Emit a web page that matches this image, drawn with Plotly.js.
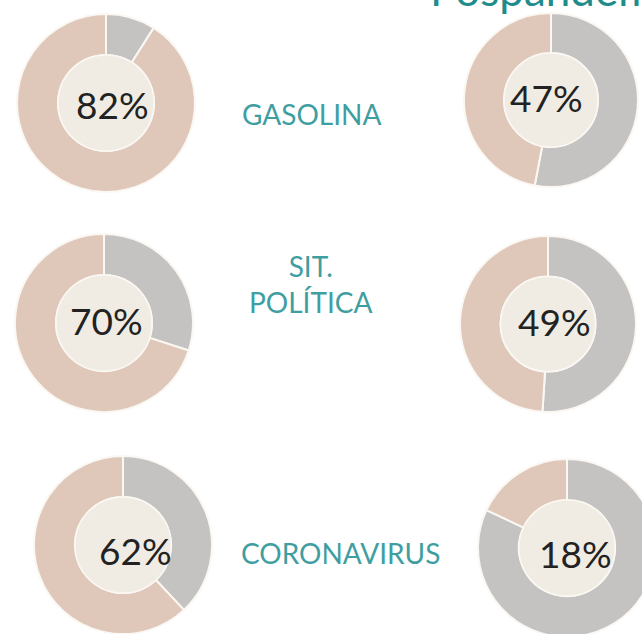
<!DOCTYPE html>
<html>
<head>
<meta charset="utf-8">
<script src="https://cdn.plot.ly/plotly-3.0.1.min.js"></script>
<style>
html,body{margin:0;padding:0;overflow:hidden;background:#fff;}
#chart{position:absolute;left:0;top:0;}
</style>
</head>
<body>
<div id="chart"></div>
<script>
// Data
const categories = ["GASOLINA", "SIT.<br>POLÍTICA", "CORONAVIRUS"];
const periods = ["Prepandemia", "Pospandemia"];
const labelsLeft = ["82%", "70%", "62%"];
const labelsRight = ["47%", "49%", "18%"];
// slice shares as drawn (beige part; the grey remainder runs clockwise from the top)
const beigeLeft = [91, 70, 62];
const beigeRight = [47, 49, 18];

const W = 680, H = 660;
const BEIGE = "#dfc8b9", GREY = "#c5c3c2", CREAM = "#f0ece3";
const HOLE = 0.54;

// donut placement (px centres and radii) and label centres
const place = [
  {cx:106, cy:103, r:89, tx:112, ty:104}, {cx:551, cy:100, r:87, tx:546, ty:98},
  {cx:104, cy:323, r:89, tx:106, ty:320}, {cx:548, cy:324, r:88, tx:554, ty:321},
  {cx:123, cy:545, r:89, tx:135, ty:550}, {cx:567, cy:548, r:89, tx:575, ty:553}
];

function dom(p, f){
  const r = p.r * f;
  return {x:[(p.cx - r)/W, (p.cx + r)/W], y:[1 - (p.cy + r)/H, 1 - (p.cy - r)/H]};
}

const traces = [];
const annotations = [];
for (let i = 0; i < 3; i++) {
  const sides = [
    {beige: beigeLeft[i], label: labelsLeft[i], p: place[i*2]},
    {beige: beigeRight[i], label: labelsRight[i], p: place[i*2+1]}
  ];
  sides.forEach(s => {
    traces.push({
      type: "pie", values: [100 - s.beige, s.beige], labels: ["resto", "sí"],
      sort: false, direction: "clockwise", rotation: 0, hole: HOLE,
      textinfo: "none", hoverinfo: "none", showlegend: false,
      marker: {colors: [GREY, BEIGE], line: {color: "#fbf8f4", width: 2}},
      domain: dom(s.p, 1)
    });
    traces.push({
      type: "pie", values: [1], labels: ["c"], textinfo: "none", hoverinfo: "none",
      showlegend: false, marker: {colors: [CREAM], line: {color: "#fbf8f4", width: 1.5}},
      domain: dom(s.p, HOLE)
    });
    annotations.push({
      text: s.label, xref: "paper", yref: "paper",
      x: s.p.tx / W, y: 1 - s.p.ty / H, xanchor: "center", yanchor: "middle",
      showarrow: false, font: {family: "Lato, 'Open Sans', sans-serif", size: 37, color: "#222"}
    });
  });
}

const catPos = [{x:311, y:114}, {x:311, y:284}, {x:340, y:553}];
categories.forEach((c, i) => {
  annotations.push({
    text: c, xref: "paper", yref: "paper", x: catPos[i].x / W, y: 1 - catPos[i].y / H,
    xanchor: "center", yanchor: "middle", showarrow: false, align: "center",
    font: {family: "Lato, 'Open Sans', sans-serif", size: 28, color: "#3f9ea1"}
  });
});

annotations.push({
  text: periods[0], xref: "paper", yref: "paper", x: 166 / W, y: 1 - (-17) / H,
  xanchor: "right", yanchor: "middle", showarrow: false,
  font: {family: "Lato, sans-serif", size: 44, color: "#7fd3da"}
});
annotations.push({
  text: periods[1], xref: "paper", yref: "paper", x: 428 / W, y: 1 - (-11) / H,
  xanchor: "left", yanchor: "middle", showarrow: false,
  font: {family: "Lato, sans-serif", size: 44, color: "#1f8c8c"}
});

Plotly.newPlot("chart", traces, {
  width: W, height: H, margin: {l:0, r:0, t:0, b:0},
  paper_bgcolor: "#ffffff", plot_bgcolor: "#ffffff",
  annotations: annotations
}, {displayModeBar: false, staticPlot: true});
</script>
</body>
</html>
